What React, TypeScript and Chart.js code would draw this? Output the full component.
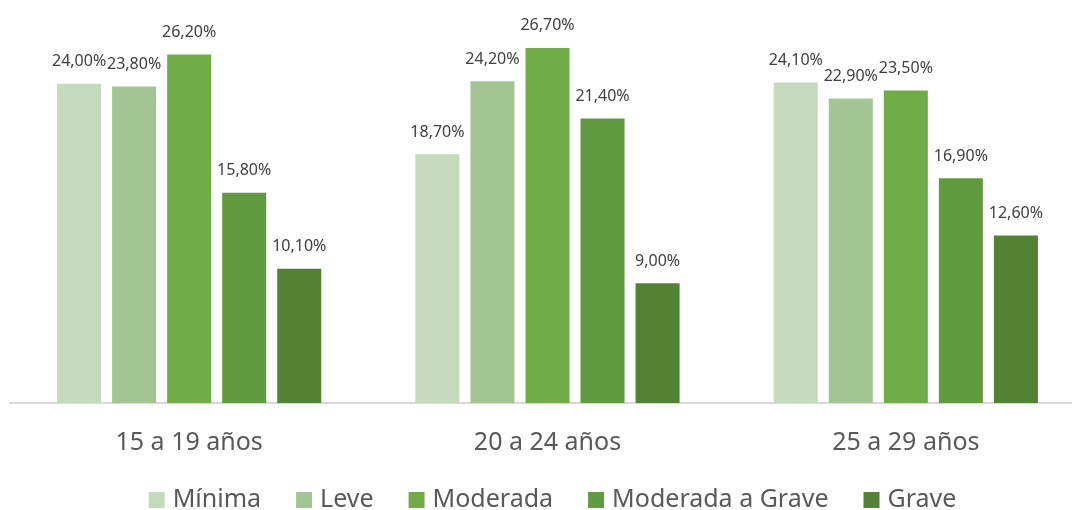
import React, { useEffect, useRef } from "react";
import { Chart, registerables } from "chart.js";

Chart.register(...registerables);

const categories = ["15 a 19 años", "20 a 24 años", "25 a 29 años"];
const seriesNames = ["Mínima", "Leve", "Moderada", "Moderada a Grave", "Grave"];
const minima = [24.0, 18.7, 24.1];
const leve = [23.8, 24.2, 22.9];
const moderada = [26.2, 26.7, 23.5];
const moderadaGrave = [15.8, 21.4, 16.9];
const grave = [10.1, 9.0, 12.6];
const seriesColors = ["#C5D9BD", "#A3C593", "#70AD47", "#629B3F", "#548235"];

const FONT = "'Noto Sans', 'Open Sans', sans-serif";

const fmt = (v: number) => v.toFixed(2).replace(".", ",") + "%";

const labelPlugin = {
  id: "barLabels",
  afterDatasetsDraw(chart: any) {
    const ctx = chart.ctx;
    ctx.save();
    ctx.font = `16px ${FONT}`;
    ctx.fillStyle = "#404040";
    ctx.textAlign = "center";
    ctx.textBaseline = "middle";
    chart.data.datasets.forEach((ds: any, i: number) => {
      const meta = chart.getDatasetMeta(i);
      meta.data.forEach((bar: any, j: number) => {
        ctx.fillText(fmt(ds.data[j]), bar.x, bar.y - 22);
      });
    });
    ctx.restore();
  },
};

const legendPlugin = {
  id: "customLegend",
  afterDraw(chart: any) {
    const ctx = chart.ctx;
    const box = 16;
    const gapText = 8;
    const gapItem = 35;
    ctx.save();
    ctx.font = `25px ${FONT}`;
    ctx.textBaseline = "alphabetic";
    ctx.textAlign = "left";
    const items = chart.data.datasets.map((ds: any) => ({
      label: ds.label,
      color: ds.backgroundColor,
      w: ctx.measureText(ds.label).width,
    }));
    const total =
      items.reduce((s: number, it: any) => s + box + gapText + it.w, 0) +
      gapItem * (items.length - 1);
    const center = (chart.chartArea.left + chart.chartArea.right) / 2 + 5;
    let x = center - total / 2;
    const baseline = 507;
    items.forEach((it: any) => {
      ctx.fillStyle = it.color;
      ctx.fillRect(x, baseline - 15, box, box);
      x += box + gapText;
      ctx.fillStyle = "#595959";
      ctx.fillText(it.label, x, baseline);
      x += it.w + gapItem;
    });
    ctx.restore();
  },
};

export default function App() {
  const ref = useRef<HTMLCanvasElement>(null);
  useEffect(() => {
    document.body.style.margin = "0";
    document.documentElement.style.overflow = "hidden";
    const all = [minima, leve, moderada, moderadaGrave, grave];
    const chart = new Chart(ref.current!, {
      type: "bar",
      data: {
        labels: categories,
        datasets: seriesNames.map((name, i) => ({
          label: name,
          data: all[i],
          backgroundColor: seriesColors[i],
          categoryPercentage: 0.768,
          barPercentage: 0.8,
        })),
      },
      options: {
        animation: false,
        responsive: false,
        maintainAspectRatio: false,
        layout: { padding: { top: 4, left: 10, right: 0, bottom: 35 } },
        plugins: {
          tooltip: { enabled: false },
          legend: { display: false },
        },
        scales: {
          x: {
            grid: { display: false },
            border: { display: true, color: "#D9D9D9", width: 2 },
            ticks: { font: { family: FONT, size: 25 }, color: "#595959", padding: 17 },
          },
          y: { display: false, min: 0, max: 30 },
        },
      },
      plugins: [labelPlugin, legendPlugin],
    });
    return () => chart.destroy();
  }, []);
  return (
    <div style={{ width: 1085, height: 510 }}>
      <canvas ref={ref} width={1085} height={510} style={{ display: "block" }} />
    </div>
  );
}
